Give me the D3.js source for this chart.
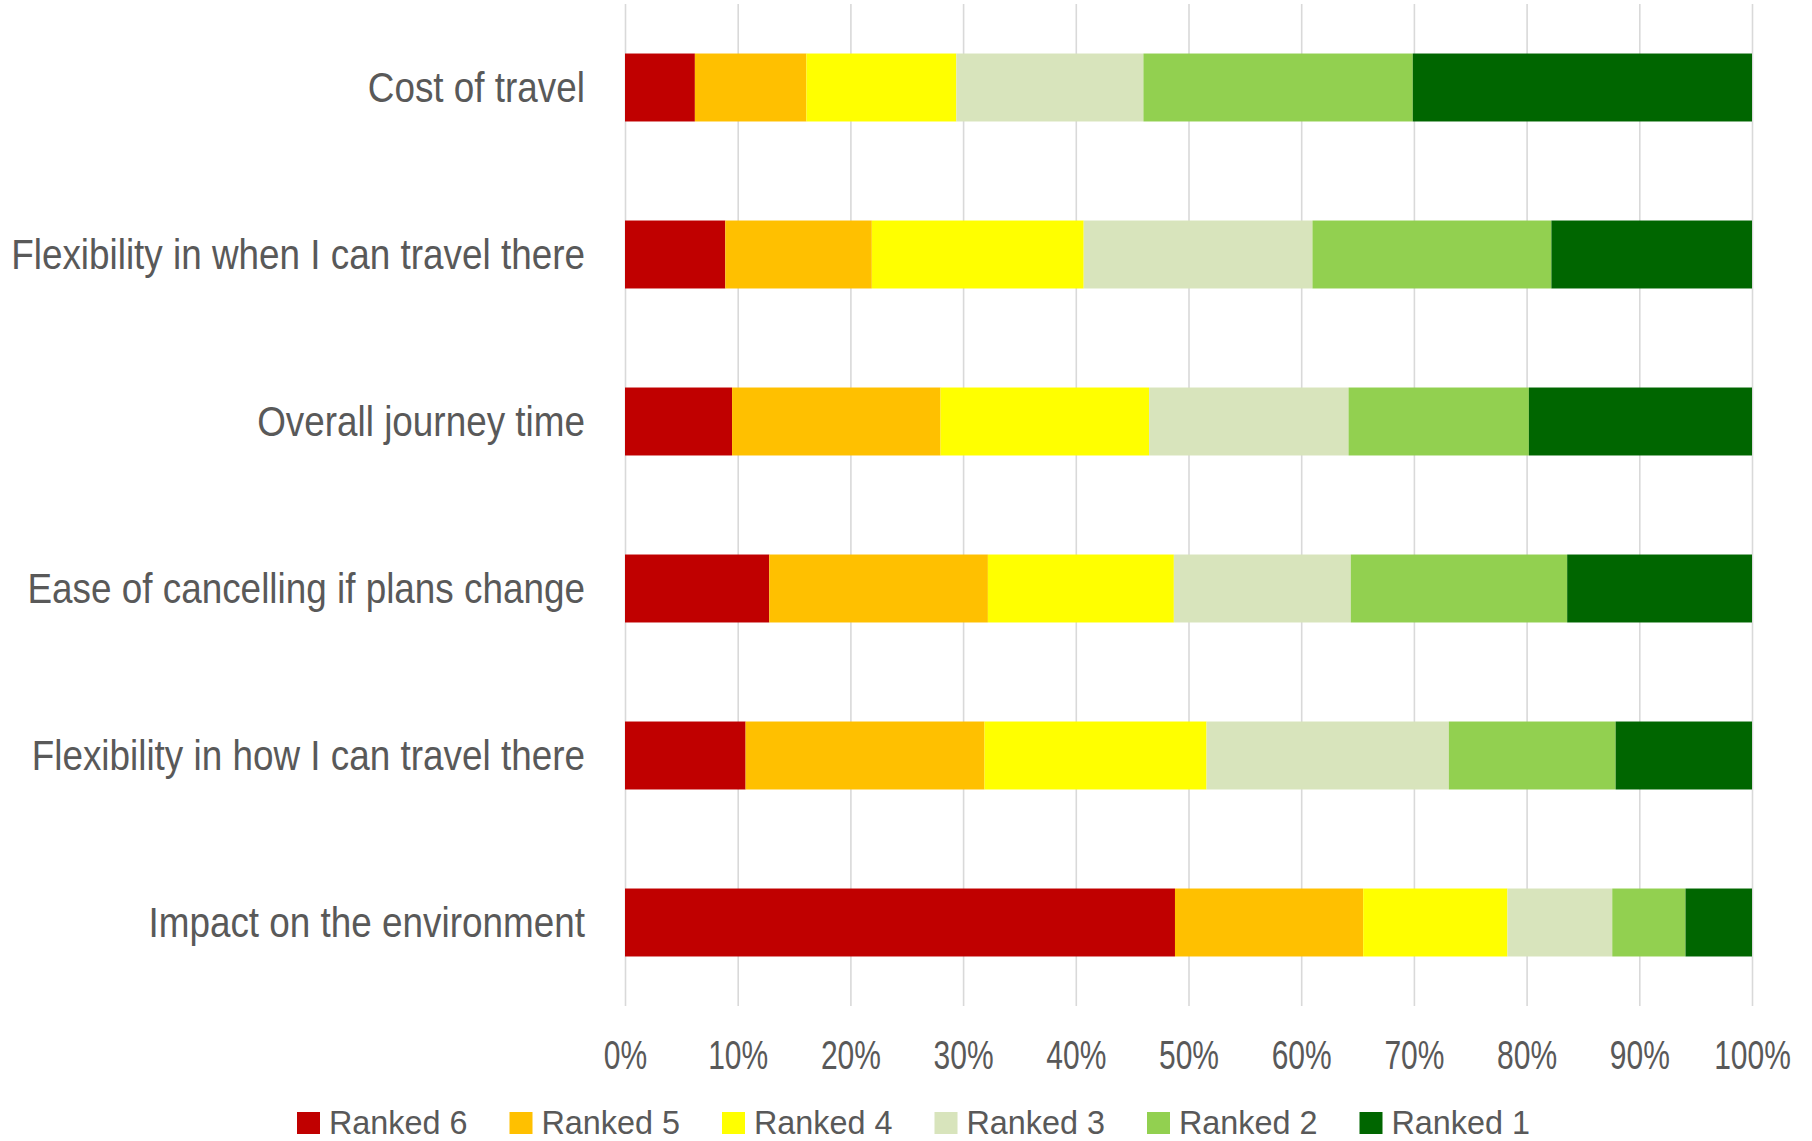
<!DOCTYPE html>
<html>
<head>
<meta charset="utf-8">
<script src="https://cdn.jsdelivr.net/npm/d3@7"></script>
<style>
  html, body { margin: 0; padding: 0; background: #fff; }
  svg { display: block; font-family: "Liberation Sans", Arial, sans-serif; }
</style>
</head>
<body>
<svg id="chart" width="1812" height="1141"></svg>
<script>
// Survey: how respondents ranked each travel factor (percent of respondents)
const categories = [
  "Cost of travel",
  "Flexibility in when I can travel there",
  "Overall journey time",
  "Ease of cancelling if plans change",
  "Flexibility in how I can travel there",
  "Impact on the environment"
];
const seriesNames = ["Ranked 6", "Ranked 5", "Ranked 4", "Ranked 3", "Ranked 2", "Ranked 1"];
const ranked6 = [6.2, 8.9, 9.5, 12.8, 10.7, 48.8];
const ranked5 = [9.9, 13.0, 18.5, 19.4, 21.2, 16.7];
const ranked4 = [13.3, 18.8, 18.5, 16.5, 19.7, 12.8];
const ranked3 = [16.6, 20.3, 17.7, 15.7, 21.5, 9.3];
const ranked2 = [23.9, 21.2, 16.0, 19.2, 14.8, 6.5];
const ranked1 = [30.1, 17.8, 19.8, 16.4, 12.1, 5.9];
const tickValues = [0, 10, 20, 30, 40, 50, 60, 70, 80, 90, 100];
const colors = ["#C00000", "#FFC000", "#FFFF00", "#D8E4BC", "#92D050", "#006600"];

const seriesValues = [ranked6, ranked5, ranked4, ranked3, ranked2, ranked1];
const rows = categories.map((c, i) => {
  const r = { category: c };
  seriesNames.forEach((s, j) => { r[s] = seriesValues[j][i]; });
  return r;
});

const svg = d3.select("#chart");
const textColor = "#595959";
const plot = { left: 625, right: 1752, top: 4, bottom: 1006 };

const x = d3.scaleLinear().domain([0, 100]).range([plot.left, plot.right]);
const y = d3.scaleBand().domain(categories).range([plot.top, plot.bottom]).paddingInner(0.593).paddingOuter(0.2965);

// vertical gridlines
svg.append("g")
  .attr("transform", `translate(0,${plot.bottom})`)
  .call(d3.axisBottom(x).tickValues(tickValues).tickSize(-(plot.bottom - plot.top)).tickFormat(""))
  .call(g => g.select(".domain").remove())
  .call(g => g.selectAll(".tick line").attr("stroke", "#D9D9D9").attr("stroke-width", 1.6));

// stacked bars
const stack = d3.stack().keys(seriesNames);
const layers = stack(rows);
svg.append("g").selectAll("g")
  .data(layers)
  .join("g")
  .attr("fill", (d, i) => colors[i])
  .selectAll("rect")
  .data(d => d)
  .join("rect")
  .attr("x", d => x(d[0]))
  .attr("width", d => x(d[1]) - x(d[0]))
  .attr("y", d => y(d.data.category))
  .attr("height", y.bandwidth());

// category labels
svg.append("g").selectAll("text")
  .data(categories)
  .join("text")
  .attr("transform", d => `translate(585,${y(d) + y.bandwidth() / 2 + 14}) scale(0.878,1)`)
  .attr("text-anchor", "end")
  .attr("fill", textColor)
  .attr("font-size", 42)
  .text(d => d);

// percentage axis
svg.append("g")
  .attr("transform", `translate(0,${plot.bottom})`)
  .call(d3.axisBottom(x).tickValues(tickValues).tickSize(0).tickFormat(d => d + "%"))
  .call(g => g.select(".domain").remove())
  .call(g => g.selectAll(".tick text")
    .attr("y", 0)
    .attr("dy", 0)
    .attr("transform", "translate(0,63) scale(0.75,1)")
    .attr("fill", textColor)
    .attr("font-size", 40)
    .attr("font-family", "'Liberation Sans', Arial, sans-serif"));

// legend
const legend = svg.append("g").attr("transform", "translate(297,1112)");
const item = legend.selectAll("g")
  .data(seriesNames)
  .join("g")
  .attr("transform", (d, i) => `translate(${i * 212.5},0)`);
item.append("rect")
  .attr("width", 23)
  .attr("height", 22)
  .attr("fill", (d, i) => colors[i]);
item.append("text")
  .attr("transform", "translate(32,22) scale(0.98,1)")
  .attr("fill", textColor)
  .attr("font-size", 33)
  .text(d => d);
</script>
</body>
</html>
